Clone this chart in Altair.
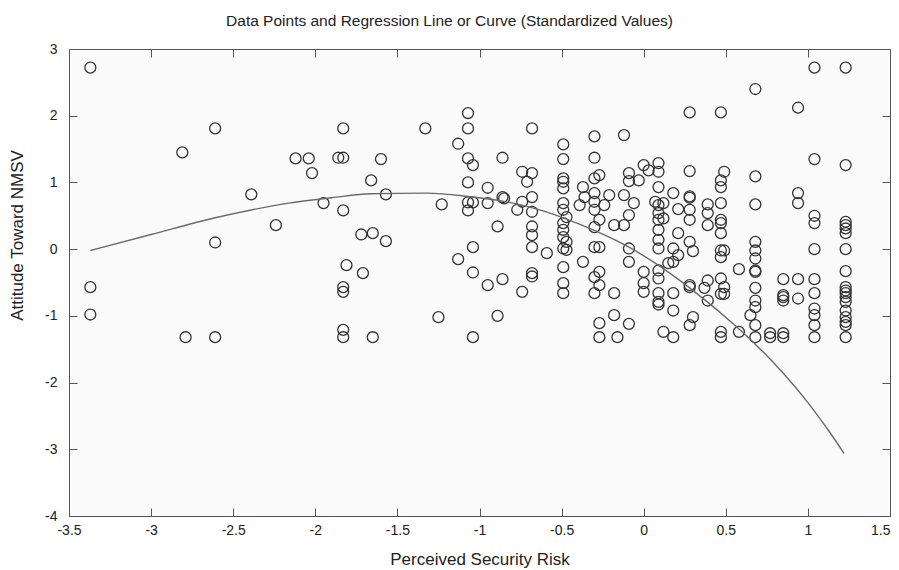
import altair as alt
import pandas as pd

FONT = "Liberation Sans"

# tick labels
x_ticks = [-3.5, -3, -2.5, -2, -1.5, -1, -0.5, 0, 0.5, 1, 1.5]
y_ticks = [-4, -3, -2, -1, 0, 1, 2, 3]

# scatter data: x column values and the y values observed at each
col_x = [-3.37, -2.81, -2.79, -2.61, -2.39, -2.24, -2.12, -2.04, -2.02, -1.95,
         -1.86, -1.83, -1.81, -1.72, -1.71, -1.66, -1.65, -1.60, -1.57, -1.33,
         -1.25, -1.23, -1.13, -1.07, -1.04, -0.95, -0.89, -0.86, -0.85, -0.77,
         -0.74, -0.71, -0.68, -0.59, -0.49, -0.47, -0.39, -0.37, -0.36, -0.30,
         -0.27, -0.24, -0.21, -0.18, -0.16, -0.12, -0.09, -0.06, -0.03, 0.00,
         0.03, 0.07, 0.09, 0.12, 0.15, 0.18, 0.21, 0.28, 0.30, 0.37,
         0.39, 0.47, 0.49, 0.58, 0.65, 0.68, 0.77, 0.85, 0.94, 1.04, 1.23]
col_y = [
    [2.72, -0.57, -0.98],
    [1.45],
    [-1.32],
    [1.81, 0.10, -1.32],
    [0.82],
    [0.36],
    [1.36],
    [1.36],
    [1.14],
    [0.69],
    [1.37],
    [1.81, 1.37, 0.58, -0.57, -0.64, -1.21, -1.32],
    [-0.24],
    [0.22],
    [-0.36],
    [1.03],
    [0.24, -1.32],
    [1.35],
    [0.82, 0.12],
    [1.81],
    [-1.02],
    [0.67],
    [1.58, -0.15],
    [2.04, 1.81, 1.36, 1.00, 0.70, 0.58],
    [1.26, 0.70, 0.03, -0.35, -1.32],
    [0.92, 0.69, -0.54],
    [0.34, -1.00],
    [1.37, 0.78, -0.45],
    [0.76],
    [0.59],
    [1.16, 0.71, -0.64],
    [1.01],
    [1.81, 1.14, 0.78, 0.56, 0.34, 0.21, 0.03, -0.36, -0.41],
    [-0.06],
    [1.57, 1.35, 1.06, 1.01, 0.91, 0.69, 0.59, 0.39, 0.29, 0.18, 0.01, -0.27, -0.51, -0.66],
    [0.48, 0.11, -0.01],
    [0.66],
    [0.93, -0.19],
    [0.78],
    [1.69, 1.37, 1.06, 0.84, 0.71, 0.59, 0.33, 0.03, -0.42, -0.66],
    [1.11, 0.44, 0.03, -0.34, -0.54, -1.11, -1.32],
    [0.66],
    [0.81],
    [0.36, -0.66, -0.99],
    [-1.32],
    [1.71, 0.81, 0.36],
    [1.14, 1.02, 0.51, 0.01, -0.19, -1.12],
    [0.69],
    [1.03],
    [1.26, -0.34, -0.51, -0.64],
    [1.18],
    [0.71],
    [1.29, 1.16, 0.93, 0.66, 0.54, 0.44, 0.29, 0.14, 0.01, -0.32, -0.44, -0.66, -0.79, -0.83],
    [0.69, 0.46, -1.24],
    [-0.21],
    [0.84, 0.01, -0.19, -0.66, -0.92, -1.32],
    [0.60, 0.24, -0.09],
    [2.05, 1.17, 0.79, 0.77, 0.59, 0.44, 0.11, -0.54, -0.57, -1.14],
    [-0.03, -1.02],
    [-0.58],
    [0.67, 0.54, 0.36, -0.47, -0.77],
    [2.05, 1.03, 0.93, 0.69, 0.44, 0.39, 0.24, -0.02, -0.12, -0.44, -0.67, -1.24, -1.32],
    [1.16, -0.02, -0.57, -0.67],
    [-0.30, -1.24],
    [-0.99],
    [2.40, 1.09, 0.67, 0.11, -0.02, -0.14, -0.32, -0.34, -0.58, -0.77, -0.87, -1.14, -1.32],
    [-1.26, -1.32],
    [-0.45, -0.69, -0.72, -0.77, -1.26, -1.32],
    [2.12, 0.84, 0.69, -0.45, -0.74],
    [2.72, 1.35, 0.50, 0.39, 0.00, -0.45, -0.66, -0.89, -0.99, -1.14, -1.32],
    [2.72, 1.26, 0.41, 0.36, 0.31, 0.24, 0.00, -0.33, -0.57, -0.62, -0.66, -0.72,
     -0.79, -0.92, -1.02, -1.09, -1.14, -1.32],
]

# regression curve
curve_x = [-3.37, -3.0, -2.61, -2.16, -1.9, -1.66, -1.32, -1.07, -0.86, -0.65,
           -0.49, -0.29, -0.09, 0.07, 0.29, 0.55, 0.69, 0.85, 1.0, 1.12, 1.22]
curve_y = [-0.02, 0.22, 0.47, 0.69, 0.77, 0.83, 0.84, 0.79, 0.72, 0.60,
           0.47, 0.27, 0.03, -0.21, -0.60, -1.13, -1.45, -1.86, -2.30, -2.70, -3.06]

rows = [{"risk": x, "attitude": y} for x, ys in zip(col_x, col_y) for y in ys]
points_df = pd.DataFrame(rows)
curve_df = pd.DataFrame({"risk": curve_x, "attitude": curve_y})

xscale = alt.Scale(domain=[-3.5, 1.5], nice=False, zero=False)
yscale = alt.Scale(domain=[-4, 3], nice=False, zero=False)

LABEL_EXPR = "(datum.value < 0 ? '-' : '') + format(abs(datum.value), '~g')"

axis_common = dict(
    tickSize=8, tickColor="#555555", tickWidth=1, domain=False, grid=False,
    offset=-8, labelFont=FONT, labelFontSize=14, labelColor="#222222",
    titleFont=FONT, titleFontSize=17, titleColor="#222222", titleFontWeight="normal",
)

points = alt.Chart(points_df).mark_point(
    shape="circle", filled=False, size=120, color="#333333", strokeWidth=1.3, opacity=1
).encode(
    x=alt.X("risk:Q", scale=xscale,
            axis=alt.Axis(values=x_ticks, labelExpr=LABEL_EXPR, orient="bottom", labelPadding=7,
                          labelFlush=False, labelOverlap=False,
                          labelAlign={"condition": {"test": "datum.value == 1.5", "value": "right"},
                                      "value": "center"},
                          title="Perceived Security Risk", titlePadding=14, **axis_common)),
    y=alt.Y("attitude:Q", scale=yscale,
            axis=alt.Axis(values=y_ticks, labelExpr=LABEL_EXPR, orient="left", labelPadding=12,
                          labelFlush=False, labelOverlap=False,
                          title="Attitude Toward NMSV", titlePadding=18, titleY=186,
                          **axis_common)),
)

curve = alt.Chart(curve_df).mark_line(
    color="#6a6a6a", strokeWidth=1.4, interpolate="monotone"
).encode(
    x=alt.X("risk:Q", scale=xscale,
            axis=alt.Axis(values=x_ticks, orient="top", labels=False, title="", **axis_common)),
    y=alt.Y("attitude:Q", scale=yscale,
            axis=alt.Axis(values=y_ticks, orient="right", labels=False, title="", **axis_common)),
)

chart = alt.layer(points, curve).resolve_axis(
    x="independent", y="independent"
).properties(
    width=821,
    height=467,
    title=alt.TitleParams(
        "Data Points and Regression Line or Curve (Standardized Values)",
        font=FONT, fontSize=15.5, fontWeight="normal", color="#222222",
        anchor="middle", baseline="bottom", offset=19, dx=-30, dy=21,
    ),
    padding={"left": 61, "top": 41, "right": 1, "bottom": 54},
    autosize=alt.AutoSizeParams(type="none"),
    background="white",
).configure_view(fill="#fafafa", stroke="#555555", strokeWidth=1)

chart.save("out.html", embed_options={"renderer": "svg", "actions": False})
